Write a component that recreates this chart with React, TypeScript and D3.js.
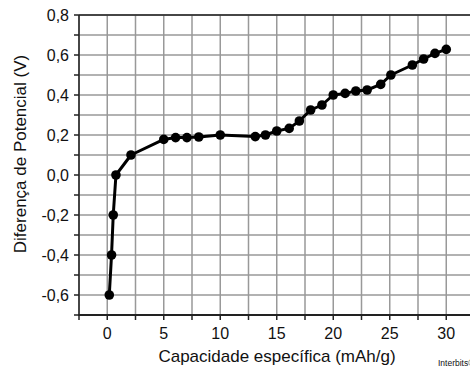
import React from "react";
import * as d3 from "d3";

const capacity = [0.18, 0.38, 0.53, 0.77, 2.1, 5.0, 6.05, 7.05, 8.1, 10.0, 13.1, 14.0, 15.0, 16.1, 17.0, 18.0, 19.0, 20.0, 21.05, 22.0, 23.0, 24.2, 25.1, 27.0, 28.0, 29.0, 30.0];
const potential = [-0.6, -0.4, -0.2, 0.0, 0.1, 0.178, 0.187, 0.187, 0.19, 0.2, 0.192, 0.2, 0.22, 0.233, 0.27, 0.325, 0.35, 0.4, 0.408, 0.42, 0.425, 0.453, 0.5, 0.55, 0.58, 0.608, 0.628];
const xTickLabels = ["0", "5", "10", "15", "20", "25", "30"];
const yTickLabels = ["-0,6", "-0,4", "-0,2", "0,0", "0,2", "0,4", "0,6", "0,8"];

const W = 470, H = 372;
const x = d3.scaleLinear().domain([-2.5, 32.5]).range([79, 474.5]);
const y = d3.scaleLinear().domain([-0.7, 0.8]).range([315, 15]);

export default function App() {
  const xGrid = d3.range(-2.5, 32.6, 2.5);
  const yGrid = d3.range(-7, 9).map((d) => d / 10);
  const line = d3.line<number>().x((_, i) => x(capacity[i])).y((d) => y(d));
  const font = "'Liberation Sans', Arial, sans-serif";
  return (
    <svg width={W} height={H} style={{ position: "absolute", left: 0, top: 0, background: "#fff" }} fontFamily={font}>
      {xGrid.map((g, i) => (
        <line key={"xg" + i} x1={x(g)} x2={x(g)} y1={y(0.8)} y2={y(-0.7)} stroke="#999" strokeWidth={1.5} />
      ))}
      {yGrid.map((g, i) => (
        <line key={"yg" + i} x1={x(-2.5)} x2={W} y1={y(g)} y2={y(g)} stroke="#999" strokeWidth={1.5} />
      ))}
      <line x1={x(-2.5)} x2={W} y1={y(0.8)} y2={y(0.8)} stroke="#222" strokeWidth={1.5} />
      <line x1={x(-2.5)} x2={x(-2.5)} y1={y(0.8)} y2={y(-0.7)} stroke="#222" strokeWidth={1.5} />
      <line x1={x(-2.5) - 0.75} x2={W} y1={y(-0.7)} y2={y(-0.7)} stroke="#222" strokeWidth={2} />
      {yGrid.map((g, i) => (
        <line key={"yt" + i} x1={x(-2.5) - 5} x2={x(-2.5)} y1={y(g)} y2={y(g)} stroke="#222" strokeWidth={1.5} />
      ))}
      {xGrid.map((g, i) => (
        <line key={"xt" + i} x1={x(g)} x2={x(g)} y1={y(-0.7)} y2={y(-0.7) + 5} stroke="#222" strokeWidth={1.5} />
      ))}
      {yTickLabels.map((t, i) => (
        <text key={"yl" + i} x={69} y={y(-0.6 + i * 0.2)} dy="0.36em" textAnchor="end" fontSize={16} fill="#111">{t}</text>
      ))}
      {xTickLabels.map((t, i) => (
        <text key={"xl" + i} x={x(i * 5)} y={339} textAnchor="middle" fontSize={16} fill="#111">{t}</text>
      ))}
      <path d={line(potential) || ""} fill="none" stroke="#000" strokeWidth={3} strokeLinejoin="round" />
      {potential.map((v, i) => (
        <circle key={"p" + i} cx={x(capacity[i])} cy={y(v)} r={4.8} fill="#000" />
      ))}
      <text x={277} y={362} textAnchor="middle" fontSize={17} fill="#111">Capacidade específica (mAh/g)</text>
      <text transform={`translate(26,${154}) rotate(-90)`} textAnchor="middle" fontSize={17} fill="#111">Diferença de Potencial (V)</text>
      <text x={438} y={366} fontSize={8.5} fill="#111">Interbits®</text>
    </svg>
  );
}
